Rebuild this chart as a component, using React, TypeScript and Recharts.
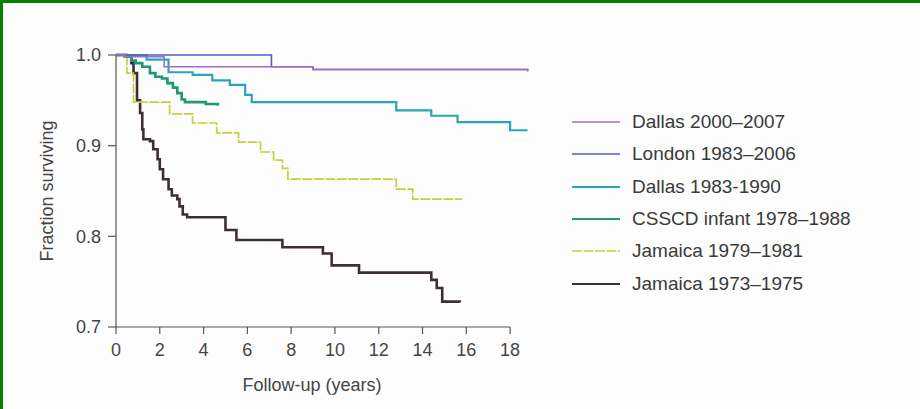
import React from 'react';
import { LineChart, Line, XAxis, YAxis, ReferenceLine } from 'recharts';

const xTicks = [0, 2, 4, 6, 8, 10, 12, 14, 16, 18];
const yTicks = [0.7, 0.8, 0.9, 1.0];

// Kaplan-Meier steps: t = years, s = fraction surviving
const dallas2000 = [
  { t: 0, s: 1.0 }, { t: 0.4, s: 0.998 }, { t: 2.2, s: 0.987 },
  { t: 9, s: 0.984 }, { t: 18.8, s: 0.982 },
];
const london = [
  { t: 0, s: 1.0 }, { t: 7.1, s: 0.987 }, { t: 9, s: 0.984 }, { t: 18.8, s: 0.982 },
];
const dallas1983 = [
  { t: 0, s: 1.0 }, { t: 1.4, s: 0.995 }, { t: 2.4, s: 0.981 }, { t: 3.5, s: 0.978 },
  { t: 4.4, s: 0.972 }, { t: 5.2, s: 0.967 }, { t: 5.9, s: 0.956 }, { t: 6.2, s: 0.948 },
  { t: 12.8, s: 0.939 }, { t: 14.4, s: 0.933 }, { t: 15.6, s: 0.926 }, { t: 18.0, s: 0.917 },
  { t: 18.8, s: 0.917 },
];
const csscd = [
  { t: 0, s: 1.0 }, { t: 0.4, s: 0.998 }, { t: 0.7, s: 0.994 }, { t: 0.9, s: 0.991 },
  { t: 1.2, s: 0.987 }, { t: 1.55, s: 0.98 }, { t: 1.8, s: 0.976 }, { t: 2.1, s: 0.974 },
  { t: 2.35, s: 0.969 }, { t: 2.6, s: 0.964 }, { t: 2.8, s: 0.958 }, { t: 3.0, s: 0.951 },
  { t: 3.15, s: 0.948 }, { t: 4.1, s: 0.946 }, { t: 4.65, s: 0.944 },
];
const jamaica1979 = [
  { t: 0, s: 1.0 }, { t: 0.5, s: 0.98 }, { t: 0.8, s: 0.948 }, { t: 2.45, s: 0.935 },
  { t: 3.5, s: 0.925 }, { t: 4.6, s: 0.914 }, { t: 5.6, s: 0.904 }, { t: 6.6, s: 0.893 },
  { t: 7.2, s: 0.884 }, { t: 7.6, s: 0.875 }, { t: 7.85, s: 0.863 }, { t: 12.8, s: 0.852 },
  { t: 13.55, s: 0.841 }, { t: 15.8, s: 0.841 },
];
const jamaica1973 = [
  { t: 0, s: 1.0 }, { t: 0.5, s: 0.998 }, { t: 0.7, s: 0.991 }, { t: 0.8, s: 0.98 },
  { t: 0.96, s: 0.95 }, { t: 1.1, s: 0.936 }, { t: 1.2, s: 0.918 }, { t: 1.25, s: 0.907 },
  { t: 1.55, s: 0.905 }, { t: 1.7, s: 0.896 }, { t: 1.9, s: 0.885 }, { t: 2.0, s: 0.874 },
  { t: 2.15, s: 0.863 }, { t: 2.4, s: 0.852 }, { t: 2.55, s: 0.845 }, { t: 2.8, s: 0.841 },
  { t: 2.9, s: 0.833 }, { t: 3.05, s: 0.824 }, { t: 3.25, s: 0.821 }, { t: 5.0, s: 0.807 },
  { t: 5.5, s: 0.796 }, { t: 7.6, s: 0.788 }, { t: 9.45, s: 0.781 }, { t: 9.85, s: 0.768 },
  { t: 11.1, s: 0.76 }, { t: 14.4, s: 0.752 }, { t: 14.65, s: 0.743 }, { t: 14.9, s: 0.728 },
  { t: 15.7, s: 0.727 },
];

const series = [
  { name: 'Dallas 2000–2007', color: '#9f6fc6', width: 1.6, data: dallas2000 },
  { name: 'London 1983–2006', color: '#5a5ac6', width: 1.6, data: london },
  { name: 'Dallas 1983-1990', color: '#2aa5b5', width: 2.2, data: dallas1983 },
  { name: 'CSSCD infant 1978–1988', color: '#1f9874', width: 2.6, data: csscd },
  { name: 'Jamaica 1979–1981', color: '#c6d03c', width: 1.7, dash: '10 1.5', data: jamaica1979 },
  { name: 'Jamaica 1973–1975', color: '#3d3033', width: 2.6, data: jamaica1973 },
];

const font = '"Liberation Sans", Arial, Helvetica, sans-serif';
const axisColor = '#555';

export default function App() {
  // draw order: bottom series first, top lines last so they stay visible like the print
  const drawOrder = [5, 4, 3, 2, 1, 0];
  return (
    <div style={{ position: 'fixed', left: 0, top: 0, width: 920, height: 409, background: '#fdfdfd', fontFamily: font }}>
      <div style={{ position: 'absolute', left: 0, top: 0, width: 920, height: 3, background: '#067f06' }} />
      <div style={{ position: 'absolute', left: 0, top: 0, width: 3, height: 409, background: '#067f06' }} />
      <LineChart width={920} height={409} margin={{ top: 55, right: 388, bottom: 22, left: 46 }}>
        <XAxis
          type="number"
          dataKey="t"
          domain={[0, 19]}
          ticks={xTicks}
          allowDuplicatedCategory={false}
          axisLine={false}
          tickSize={7}
          tickMargin={9}
          height={60}
          tickLine={{ stroke: axisColor, strokeWidth: 1.2 }}
          tick={{ fill: '#444', fontSize: 18, fontFamily: font }}
          label={{ value: 'Follow-up (years)', position: 'insideBottom', offset: -4, dx: -12, fill: '#444', fontSize: 18, fontFamily: font }}
        />
        <YAxis
          type="number"
          dataKey="s"
          domain={[0.7, 1.0]}
          ticks={yTicks}
          width={70}
          tickSize={8}
          tickMargin={7}
          tickFormatter={(v: number) => v.toFixed(1)}
          axisLine={{ stroke: axisColor, strokeWidth: 1.2 }}
          tickLine={{ stroke: axisColor, strokeWidth: 1.2 }}
          tick={{ fill: '#444', fontSize: 18, fontFamily: font }}
          label={{ value: 'Fraction surviving', angle: -90, position: 'insideLeft', offset: 0, dx: 1, fill: '#444', fontSize: 18, fontFamily: font, style: { textAnchor: 'middle' } }}
        />
        <ReferenceLine
          segment={[{ x: 0, y: 0.7 }, { x: 18, y: 0.7 }]}
          stroke={axisColor}
          strokeWidth={1.2}
        />
        {drawOrder.map((i) => {
          const sr = series[i];
          return (
            <Line
              key={sr.name}
              data={sr.data}
              dataKey="s"
              name={sr.name}
              type="stepAfter"
              stroke={sr.color}
              strokeWidth={sr.width}
              strokeDasharray={sr.dash}
              dot={false}
              activeDot={false}
              isAnimationActive={false}
            />
          );
        })}
      </LineChart>
      <div style={{ position: 'absolute', left: 572, top: 106 }}>
        {series.map((sr) => (
          <div key={sr.name} style={{ display: 'flex', alignItems: 'center', height: 32.3 }}>
            <svg width={48} height={6} style={{ marginRight: 12 }}>
              <line x1={0} y1={3} x2={48} y2={3} stroke={sr.color} strokeWidth={sr.width > 2 ? 2.2 : 1.6} strokeDasharray={sr.dash} />
            </svg>
            <span style={{ fontSize: 19, color: '#3a3a3a', whiteSpace: 'nowrap' }}>{sr.name}</span>
          </div>
        ))}
      </div>
    </div>
  );
}
